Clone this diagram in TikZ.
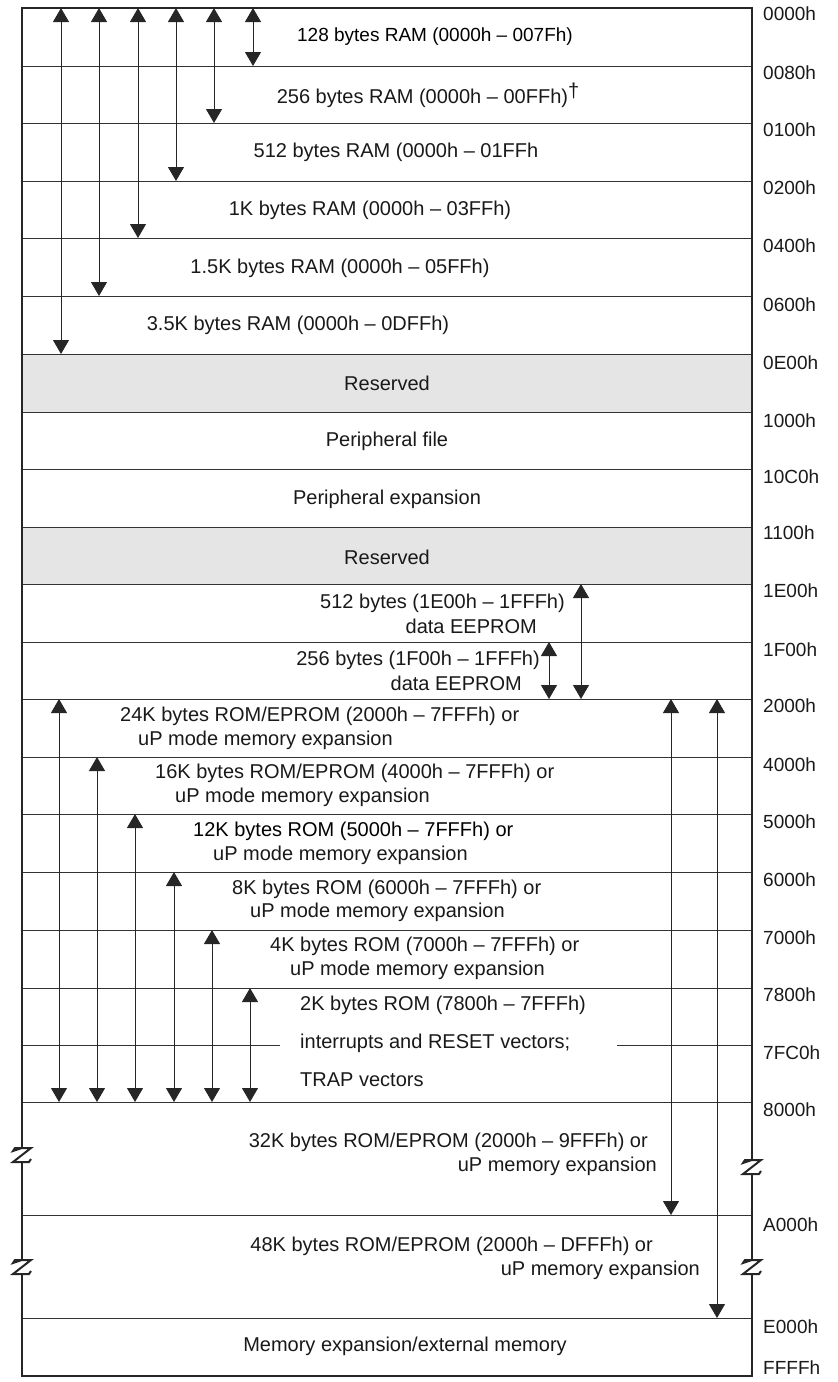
\documentclass[tikz,border=0pt]{standalone}
\usepackage{fontspec}
\setmainfont{Liberation Sans}
\usetikzlibrary{arrows.meta}

\tikzset{
  lbl/.style={font=\fontsize{20}{24}\selectfont, text=black!90, inner sep=0pt},
  addr/.style={lbl, font=\fontsize{19}{23}\selectfont, anchor=west},
  rowline/.style={draw=black!80, line width=1pt},
  dim/.style={<->, draw=black!85, line width=0.9pt},
  resv/.style={fill=black!10},
  frame/.style={draw=black!85, line width=2.6pt}
}
% break mark on a vertical edge: #1 = x, #2 = y
\newcommand{\zigbreak}[2]{%
  \draw[frame, line width=2pt] (#1,#2-8) -- (#1-9,#2-5) -- (#1-7,#2-8) -- (#1+9,#2-8)
    -- (#1-9,#2+6) -- (#1+7,#2+6) -- (#1+9,#2+3);
  \draw[frame, line width=2pt] (#1,#2+6) -- (#1,#2+10);
}

\begin{document}
\begin{tikzpicture}[x=1pt, y=-1pt, >={Triangle[length=14pt,width=16pt]}]
        \useasboundingbox (0,0) rectangle (838,1382);

        % Row boundaries (left edge)
        \foreach \n/\y in {0/8,1/66,2/123,3/181,4/238,5/296,6/354,7/412,8/469,9/527,10/584,
                           11/642,12/699,13/757,14/814,15/872,16/930,17/988,18/1045,
                           19/1102,20/1215,21/1318,22/1376}
          \coordinate (r\n) at (22,\y);

        % Reserved bands
        \fill[resv] (r6) rectangle (752,412);
        \fill[resv] (r9) rectangle (752,584);

        % Row lines
        \foreach \n in {1,...,17,19,20,21}
          \draw[rowline] (r\n) -- ++(730,0);
        \draw[rowline] (r18) -- ++(258,0);
        \draw[rowline] (617,0 |- r18) -- (752,0 |- r18);

        % RAM sizes
        \foreach \x/\a/\b in {253/0/1, 214/0/2, 176/0/3, 138/0/4, 99/0/5, 61/0/6}
          \draw[dim] (\x,0 |- r\a) -- (\x,0 |- r\b);

        % Data EEPROM
        \draw[dim] (581,0 |- r10) -- (581,0 |- r12);
        \draw[dim] (549,0 |- r11) -- (549,0 |- r12);

        % ROM sizes
        \foreach \x/\a in {59/12, 97/13, 135/14, 174/15, 212/16, 250/17}
          \draw[dim] (\x,0 |- r\a) -- (\x,0 |- r19);
        \draw[dim] (671,0 |- r12) -- (671,0 |- r20);
        \draw[dim] (717,0 |- r12) -- (717,0 |- r21);

        % Frame with breaks
        \draw[frame] (22,1148) -- (r0) -- (752,8) -- (752,1160);
        \draw[frame] (22,1166) -- (22,1260);
        \draw[frame] (22,1278) -- (r22) -- (752,1376) -- (752,1278);
        \draw[frame] (752,1178) -- (752,1260);
        \zigbreak{22}{1156}
        \zigbreak{22}{1268}
        \zigbreak{752}{1168}
        \zigbreak{752}{1268}

        % Addresses
        \foreach \y/\t in {14/0000h, 73/0080h, 130/0100h, 188/0200h, 246/0400h, 305/0600h,
                           363/0E00h, 421/1000h, 477/10C0h, 533/1100h, 591/1E00h, 650/1F00h,
                           706/2000h, 765/4000h, 822/5000h, 880/6000h, 938/7000h, 995/7800h,
                           1053/7FC0h, 1110/8000h, 1225/A000h, 1327/E000h, 1368/FFFFh}
          \node[addr] (adr-\t) at (763,\y) {\t};

        % RAM texts
        \node[lbl, font=\fontsize{19}{23}\selectfont, text=black] (ram128) at (435,37) {128 bytes RAM (0000h -- 007Fh)};
        \node[lbl] (ram256) at (428,95) {256 bytes RAM (0000h -- 00FFh)\raisebox{6pt}{\textdagger}};
        \node[lbl] (ram512) at (396,152) {512 bytes RAM (0000h -- 01FFh};
        \node[lbl] (ram1k) at (370,210) {1K bytes RAM (0000h -- 03FFh)};
        \node[lbl] (ram15k) at (340,268) {1.5K bytes RAM (0000h -- 05FFh)};
        \node[lbl] (ram35k) at (298,325) {3.5K bytes RAM (0000h -- 0DFFh)};

        % Fixed blocks
        \node[lbl] (resv1) at (387,383) {Reserved};
        \node[lbl] (perfile) at (387,441) {Peripheral file};
        \node[lbl] (perexp) at (387,499) {Peripheral expansion};
        \node[lbl] (resv2) at (387,557) {Reserved};

        % EEPROM texts
        \node[lbl, anchor=east] (ee512) at (565,603) {512 bytes (1E00h -- 1FFFh)};
        \node[lbl, anchor=east] (ee512b) at (537,626) {data EEPROM};
        \node[lbl, anchor=east] (ee256) at (540,660) {256 bytes (1F00h -- 1FFFh)};
        \node[lbl, anchor=east] (ee256b) at (522,683) {data EEPROM};

        % ROM texts
        \node[lbl, anchor=west] (rom24) at (120,716) {24K bytes ROM/EPROM (2000h -- 7FFFh) or};
        \node[lbl, anchor=west] (rom24b) at (138,740) {uP mode memory expansion};
        \node[lbl, anchor=west] (rom16) at (155,773) {16K bytes ROM/EPROM (4000h -- 7FFFh) or};
        \node[lbl, anchor=west] (rom16b) at (175,797) {uP mode memory expansion};
        \node[lbl, anchor=west, text=black] (rom12) at (193,831) {12K bytes ROM (5000h -- 7FFFh) or};
        \node[lbl, anchor=west] (rom12b) at (213,855) {uP mode memory expansion};
        \node[lbl, anchor=west] (rom8) at (232,889) {8K bytes ROM (6000h -- 7FFFh) or};
        \node[lbl, anchor=west] (rom8b) at (250,912) {uP mode memory expansion};
        \node[lbl, anchor=west] (rom4) at (270,946) {4K bytes ROM (7000h -- 7FFFh) or};
        \node[lbl, anchor=west] (rom4b) at (290,970) {uP mode memory expansion};
        \node[lbl, anchor=west] (rom2) at (300,1005) {2K bytes ROM (7800h -- 7FFFh)};
        \node[lbl, anchor=west] (rom2b) at (300,1043) {interrupts and RESET vectors;};
        \node[lbl, anchor=west] (rom2c) at (300,1080) {TRAP vectors};

        % Large ROM texts
        \node[lbl, anchor=east] (rom32) at (648,1142) {32K bytes ROM/EPROM (2000h -- 9FFFh) or};
        \node[lbl, anchor=east] (rom32b) at (657,1166) {uP memory expansion};
        \node[lbl, anchor=east] (rom48) at (653,1246) {48K bytes ROM/EPROM (2000h -- DFFFh) or};
        \node[lbl, anchor=east] (rom48b) at (700,1270) {uP memory expansion};

        % External memory
        \node[lbl] (extmem) at (405,1346) {Memory expansion/external memory};

    \end{tikzpicture}
\end{document}
